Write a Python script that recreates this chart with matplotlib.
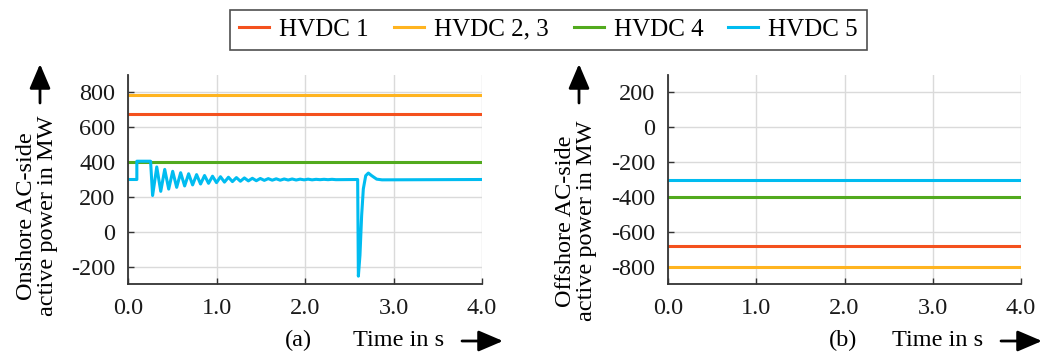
import matplotlib
matplotlib.use("Agg")
import matplotlib.pyplot as plt
from matplotlib.lines import Line2D

plt.rcParams['font.family'] = ['Liberation Serif', 'DejaVu Serif']

W, H = 1052, 353

# ---------------- data ----------------
series_names = ["HVDC 1", "HVDC 2, 3", "HVDC 4", "HVDC 5"]
colors = ["#F4511E", "#FFB420", "#52AA1E", "#00BCF0"]

t_const = [0.0, 4.0]
onshore_hvdc1 = [675, 675]
onshore_hvdc23 = [785, 785]
onshore_hvdc4 = [400, 400]

offshore_hvdc1 = [-680, -680]
offshore_hvdc23 = [-800, -800]
offshore_hvdc4 = [-400, -400]
offshore_hvdc5 = [-300, -300]

# HVDC 5 onshore: step, damped oscillation (read extrema), fault dip, recovery
onshore_hvdc5_t = [0.0, 0.10, 0.10, 0.255, 0.278,
                   0.325, 0.37, 0.415, 0.46, 0.505, 0.55, 0.595, 0.64, 0.685, 0.73,
                   0.775, 0.82, 0.865, 0.91, 0.955, 1.0, 1.045, 1.09, 1.135, 1.18,
                   1.225, 1.27, 1.315, 1.36, 1.405, 1.45, 1.495, 1.54, 1.585, 1.63,
                   1.675, 1.72, 1.765, 1.81, 1.855, 1.90, 1.945, 1.99, 2.035, 2.08,
                   2.125, 2.17, 2.215, 2.26, 2.305, 2.35, 2.595,
                   2.603, 2.621, 2.640, 2.659, 2.686, 2.716, 2.753, 2.81, 2.87, 4.0]
onshore_hvdc5_p = [300, 300, 405, 405, 208,
                   372, 232, 358, 245, 347, 255, 339, 263, 333, 269,
                   328, 274, 323, 278, 319, 282, 316, 285, 313, 288,
                   311, 290, 309, 292, 307, 293, 306, 295, 305, 296,
                   304, 296, 303, 297, 303, 297, 302, 298, 302, 298,
                   301, 299, 301, 299, 301, 299, 300,
                   -255, -135, 93, 246, 322, 337, 322, 302, 298, 300]

x_ticks = [0.0, 1.0, 2.0, 3.0, 4.0]
x_ticklabels = ["0.0", "1.0", "2.0", "3.0", "4.0"]
yticks_a = [-200, 0, 200, 400, 600, 800]
yticks_b = [-800, -600, -400, -200, 0, 200]

# ---------------- figure ----------------
fig = plt.figure(figsize=(W / 100, H / 100), dpi=100)


def fx(px):
    return px / W


def fy(py):
    return 1 - py / H


def make_ax(left_px, right_px, top_px, bottom_px):
    ax = fig.add_axes([fx(left_px), fy(bottom_px), (right_px - left_px) / W,
                       (bottom_px - top_px) / H])
    for s in ["top", "right"]:
        ax.spines[s].set_visible(False)
    for s in ["left", "bottom"]:
        ax.spines[s].set_color("#333333")
        ax.spines[s].set_linewidth(1.3)
    ax.grid(True, color="#dadada", linewidth=1.0)
    ax.set_axisbelow(True)
    ax.tick_params(direction="in", length=4, width=1, color="#333333",
                   labelsize=17.5, labelcolor="#1a1a1a")
    ax.tick_params(axis="y", pad=9)
    ax.tick_params(axis="x", pad=10)
    ax.set_xlim(0, 4)
    ax.set_xticks(x_ticks)
    ax.set_xticklabels(x_ticklabels)
    return ax


lw = 2.2
ax1 = make_ax(128, 482, 75, 284)
ax1.plot(t_const, onshore_hvdc1, color=colors[0], lw=lw)
ax1.plot(t_const, onshore_hvdc23, color=colors[1], lw=lw)
ax1.plot(t_const, onshore_hvdc4, color=colors[2], lw=lw)
ax1.plot(onshore_hvdc5_t, onshore_hvdc5_p, color=colors[3], lw=lw)
ax1.set_ylim(-300, 900)
ax1.set_yticks(yticks_a)
ax1.set_yticklabels([str(v) for v in yticks_a])

ax2 = make_ax(668, 1021, 75, 284)
ax2.plot(t_const, offshore_hvdc1, color=colors[0], lw=lw)
ax2.plot(t_const, offshore_hvdc23, color=colors[1], lw=lw)
ax2.plot(t_const, offshore_hvdc4, color=colors[2], lw=lw)
ax2.plot(t_const, offshore_hvdc5, color=colors[3], lw=lw)
ax2.set_ylim(-900, 300)
ax2.set_yticks(yticks_b)
ax2.set_yticklabels([str(v) for v in yticks_b])

# y labels with arrows
fs = 17.5
fig.text(fx(37), fy(216), "Onshore AC-side\nactive power in MW", rotation=90,
         ha="center", va="center", fontsize=fs, linespacing=1.0, multialignment="center")
fig.text(fx(576), fy(221), "Offshore AC-side\nactive power in MW", rotation=90,
         ha="center", va="center", fontsize=fs, linespacing=1.0, multialignment="center")

arrow_kw = dict(arrowstyle="-|>,head_length=0.75,head_width=0.32", color="black", lw=2,
                shrinkA=0, shrinkB=0)
for x in (40, 579):
    fig.add_artist(matplotlib.patches.FancyArrowPatch(
        (fx(x), fy(103)), (fx(x), fy(64)), transform=fig.transFigure,
        mutation_scale=20, **arrow_kw))

# x labels
fig.text(fx(298), fy(340), "(a)", ha="center", va="center", fontsize=fs)
fig.text(fx(399), fy(340), "Time in s", ha="center", va="center", fontsize=fs)
fig.text(fx(843), fy(340), "(b)", ha="center", va="center", fontsize=fs)
fig.text(fx(938), fy(340), "Time in s", ha="center", va="center", fontsize=fs)
for x0, x1 in ((462, 503), (1001, 1042)):
    fig.add_artist(matplotlib.patches.FancyArrowPatch(
        (fx(x0), fy(341)), (fx(x1), fy(341)), transform=fig.transFigure,
        mutation_scale=20, **arrow_kw))

# legend
handles = [Line2D([0], [0], color=c, lw=2.2) for c in colors]
leg = fig.legend(handles, series_names, loc="center", ncol=4,
                 bbox_to_anchor=(fx(548.5), fy(29.5)), fontsize=18,
                 frameon=True, fancybox=False, edgecolor="#222222",
                 handlelength=1.2, handletextpad=0.4, columnspacing=1.0,
                 borderpad=0.35, borderaxespad=0)
leg.get_frame().set_linewidth(1.2)

fig.savefig("out.png", dpi=100)
